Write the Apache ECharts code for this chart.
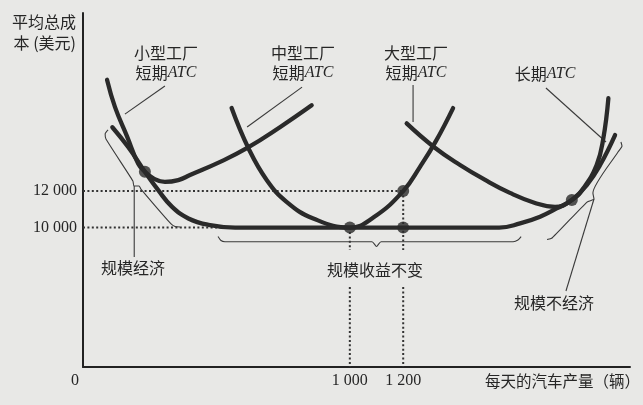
<!DOCTYPE html>
<html><head><meta charset="utf-8">
<script src="https://cdn.jsdelivr.net/npm/echarts@6/dist/echarts.min.js"></script>
<style>html,body{margin:0;padding:0;background:#e8e8e6;}#c{width:643px;height:405px;}</style>
</head><body><div id="c"></div>
<script>
// ---- data (x: cars per day, y: average total cost in dollars) ----
const xTickValues = [0, 1000, 1200];
const yTickValues = [10000, 12000];
const smallPlantATC = [[90,18100],[120,16600],[165,15000],[207,13500],[232,13060],[264,12700],[307,12500],[357,12600],[401,12880],[514,13600],[614,14350],[738,15500],[857,16700]];
const mediumPlantATC = [[557,16550],[620,14350],[689,12600],[764,11400],[863,10500],[1000,10000],[1088,10550],[1200,12000],[1263,13330],[1323,14750],[1387,16550]];
const largePlantATC = [[1213,15710],[1315,14420],[1413,13430],[1507,12610],[1600,11900],[1694,11350],[1769,11130],[1832,11510],[1875,12150],[1925,13430],[1950,14890],[1969,17090]];
const longRunATC = [[110,15500],[170,14400],[232,13060],[282,12050],[333,11150],[395,10500],[470,10150],[570,10000],[1000,10000],[1200,10000],[1560,10000],[1638,10230],[1713,10600],[1775,11050],[1832,11510],[1888,12330],[1938,13430],[1994,15070]];
const keyPoints = [[232,13060],[1000,10000],[1200,12000],[1200,10000],[1832,11510]];
const guideQuantities = [1000, 1200];
const guideCosts = [10000, 12000];
const flatStart = 570;
const labelGap = [6740, 8770];
const yMin = 2360, yMax = 21760, xMin = 0, xMax = 2050;
// annotation paths (data coordinates)
const braceEconomies = [[94,15350],[83,15130],[86,14850],[187,12550],[191,12280],[210,12280],[217,12110],[330,10200],[345,10060],[364,10030]];
const braceConstant = [[506,9510],[517,9290],[532,9226],[1083,9226],[1100,8963],[1117,9226],[1612,9226],[1630,9320],[1642,9510]];
const braceDiseconomies = [[1739,9350],[1758,9430],[1889,11400],[1915,11566],[1911,11895],[2005,14140],[2020,14470],[2016,14690]];
const leaderSmall = [[307,17760],[157,16220]];
const leaderMedium = [[821,17700],[615,15510]];
const leaderLarge = [[1237,17810],[1237,15790]];
const leaderLong = [[1735,17650],[1960,14690]];
const leaderEconomies = [[192,12280],[192,8390]];
const leaderDiseconomies = [[1915,11566],[1810,6525]];

const ink = '#2a2a2a';
const cjk = '"Noto Sans CJK SC", sans-serif';
const serif = '"Liberation Serif", "DejaVu Serif", serif';
const fmt = v => String(v).replace(/\B(?=(\d{3})+(?!\d))/g, ' ');

function curve(data, name) {
  return { type: 'line', name, data, smooth: 0.45, showSymbol: false, symbol: 'none', z: 3,
    lineStyle: { color: ink, width: 4.3, cap: 'round' }, silent: true };
}
function thin(data, smooth) {
  return { type: 'line', data, smooth: smooth || 0, showSymbol: false, symbol: 'none', z: 2,
    lineStyle: { color: '#3a3a3a', width: 1.1 }, silent: true };
}
function dotted(data) {
  return { type: 'line', data, showSymbol: false, symbol: 'none', z: 1,
    lineStyle: { color: '#333', width: 2, type: [2, 2.4] }, silent: true };
}

const series = [
  dotted([[xMin, guideCosts[1]], [guideQuantities[1], guideCosts[1]]]),
  dotted([[xMin, guideCosts[0]], [flatStart, guideCosts[0]]]),
  dotted([[guideQuantities[0], guideCosts[0]], [guideQuantities[0], labelGap[1]]]),
  dotted([[guideQuantities[0], labelGap[0]], [guideQuantities[0], yMin]]),
  dotted([[guideQuantities[1], guideCosts[1]], [guideQuantities[1], labelGap[1]]]),
  dotted([[guideQuantities[1], labelGap[0]], [guideQuantities[1], yMin]]),
  curve(smallPlantATC, '小型工厂短期ATC'),
  curve(mediumPlantATC, '中型工厂短期ATC'),
  curve(largePlantATC, '大型工厂短期ATC'),
  curve(longRunATC, '长期ATC'),
  thin(braceEconomies, 0.2), thin(braceConstant, 0.2), thin(braceDiseconomies, 0.2),
  thin(leaderSmall), thin(leaderMedium), thin(leaderLarge), thin(leaderLong),
  thin(leaderEconomies), thin(leaderDiseconomies),
  { type: 'scatter', data: keyPoints, symbolSize: 12, z: 5, itemStyle: { color: ink }, silent: true }
];

function txt(x, y, text, opts) {
  return Object.assign({ type: 'text', x, y, silent: true,
    style: Object.assign({ text, fill: '#262626', fontFamily: cjk, fontSize: 16, align: 'center', verticalAlign: 'middle' }, opts || {}) });
}
const atcRich = { c: { fontFamily: cjk, fontSize: 16, fill: '#262626' }, i: { fontFamily: serif, fontStyle: 'italic', fontSize: 16, fill: '#262626' } };
function atc(x, y, prefix) {
  return { type: 'text', x, y, silent: true,
    style: { text: '{c|' + prefix + '}{i|ATC}', rich: atcRich, align: 'center', verticalAlign: 'middle' } };
}

const chart = echarts.init(document.getElementById('c'), null, { renderer: 'canvas' });
chart.setOption({
  backgroundColor: '#e8e8e6',
  animation: false,
  grid: { left: 83, right: 13, top: 13, bottom: 38, containLabel: false },
  xAxis: {
    type: 'value', min: xMin, max: xMax,
    axisLine: { show: true, onZero: false, lineStyle: { color: '#222', width: 2 } },
    axisTick: { show: false }, splitLine: { show: false },
    axisLabel: { customValues: xTickValues, margin: 6, fontFamily: serif, fontSize: 16, color: '#262626',
      formatter: v => v === 0 ? '{z|0}' : fmt(v),
      rich: { z: { fontFamily: serif, fontSize: 16, color: '#262626', padding: [0, 16, 0, 0] } } }
  },
  yAxis: {
    type: 'value', min: yMin, max: yMax,
    axisLine: { show: true, onZero: false, lineStyle: { color: '#222', width: 2 } },
    axisTick: { show: false }, splitLine: { show: false },
    axisLabel: { customValues: yTickValues, margin: 6, fontFamily: serif, fontSize: 16, color: '#262626', formatter: fmt }
  },
  series,
  graphic: [
    txt(76, 22, '平均总成', { align: 'right' }),
    txt(76, 43, '本 (美元)', { align: 'right' }),
    txt(166, 53, '小型工厂'), atc(166, 73, '短期'),
    txt(303, 53, '中型工厂'), atc(303, 73, '短期'),
    txt(416, 53, '大型工厂'), atc(416, 73, '短期'),
    atc(545, 74, '长期'),
    txt(133, 268, '规模经济'),
    txt(375, 270, '规模收益不变'),
    txt(554, 303, '规模不经济'),
    txt(485, 381, '每天的汽车产量（辆）', { align: 'left', fontSize: 15.5 })
  ]
});
</script></body></html>
